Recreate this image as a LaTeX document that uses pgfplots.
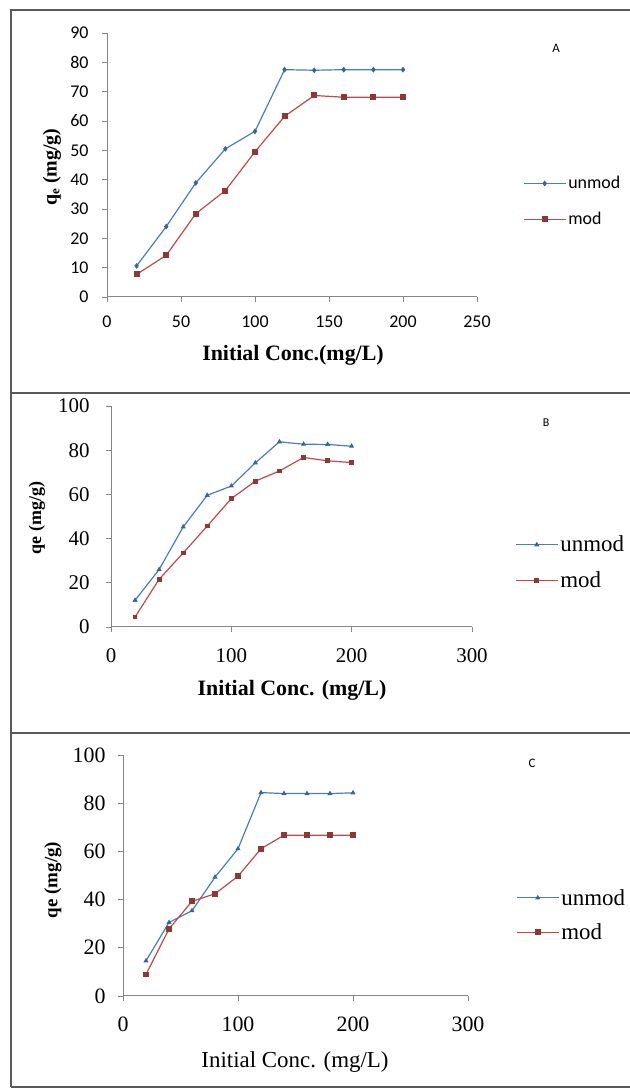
\documentclass[border=0pt]{standalone}
\usepackage{fontspec}
\setmainfont{Liberation Serif}
\newfontfamily\carlito{Carlito}
\usepackage{pgfplots}
\pgfplotsset{compat=1.18}

\definecolor{xlblue}{HTML}{4A7EBB}
\definecolor{xlred}{HTML}{BE4B48}
\definecolor{axgray}{HTML}{868686}
\definecolor{framegray}{HTML}{595959}

\pgfplotsset{
  panel/.style={
    scale only axis, anchor=south west,
    axis lines=left, axis line style={-, axgray, line width=1bp},
    tick style={axgray, line width=0.8bp}, tick align=outside, major tick length=5bp,
    xmin=0, ymin=0, clip=false,
    /pgf/number format/assume math mode=true,
    legend style={draw=none, fill=none, anchor=west, inner sep=0pt},
    legend cell align=left,
    legend image code/.code={\draw[mark repeat=2,mark phase=2,##1] plot coordinates {(0bp,0bp) (21bp,0bp) (42bp,0bp)};},
  },
  unmod/.style={xlblue, line width=1.2bp, mark options={fill=xlblue!80!black, draw=xlblue!80!black}},
  mod/.style={xlred, line width=1.2bp, mark=square*, mark options={fill=xlred!75!black, draw=xlred!75!black}},
}

\begin{document}
\begin{tikzpicture}
\useasboundingbox (0,0) rectangle (630bp,1090bp);

% panel A
\begin{axis}[panel,
  at={(107bp,793bp)}, width=370bp, height=264bp,
  xmax=250, ymax=90, xtick={0,50,...,250}, ytick={0,10,...,90},
  ticklabel style={font=\carlito\fontsize{18}{18}\selectfont},
  yticklabel style={xshift=-10bp}, xticklabel style={yshift=-10bp},
  legend style={at={(axis description cs:1.124,0.362)}, font=\carlito\fontsize{18}{18}\selectfont, row sep=18bp},
]
\addplot[unmod, mark=diamond*, mark size=2bp] coordinates {
  (20,10.6) (40,24.0) (60,38.9) (80,50.5) (100,56.5) (120,77.5) (140,77.3) (160,77.5) (180,77.5) (200,77.5)};
\addplot[mod, mark size=2.4bp] coordinates {
  (20,7.7) (40,14.2) (60,28.4) (80,36.3) (100,49.5) (120,61.6) (140,68.7) (160,68.1) (180,68.1) (200,68.1)};
\legend{unmod,mod}
\node[font=\carlito\fontsize{13}{13}\selectfont] at (axis description cs:1.214,0.943) {A};
\end{axis}
\node[font=\bfseries\fontsize{22}{22}\selectfont] at (293bp,735bp) {Initial Conc.(mg/L)};
\node[rotate=90, font=\bfseries\fontsize{20}{20}\selectfont] at (52bp,923bp)
  {q\raisebox{-0.3ex}{\fontsize{13}{13}\selectfont e} (mg/g)};

% panel B
\begin{axis}[panel,
  at={(111bp,463bp)}, width=361bp, height=221bp,
  xmax=300, ymax=100, xtick={0,100,200,300}, ytick={0,20,...,100},
  ticklabel style={font=\fontsize{21}{21}\selectfont},
  yticklabel style={xshift=-13bp}, xticklabel style={yshift=-13bp},
  legend style={at={(axis description cs:1.119,0.292)}, font=\fontsize{23}{23}\selectfont, row sep=14bp},
]
\addplot[unmod, mark=triangle*, mark size=1.8bp] coordinates {
  (20,12.1) (40,26.0) (60,45.3) (80,59.6) (100,63.8) (120,74.3) (140,83.8) (160,82.7) (180,82.6) (200,81.8)};
\addplot[mod, mark size=1.8bp] coordinates {
  (20,4.5) (40,21.6) (60,33.5) (80,45.7) (100,58.1) (120,66.0) (140,70.6) (160,76.7) (180,75.2) (200,74.4)};
\legend{unmod,mod}
\node[font=\carlito\fontsize{12}{12}\selectfont] at (axis description cs:1.205,0.923) {B};
\end{axis}
\node[font=\bfseries\fontsize{22}{22}\selectfont] at (292bp,400bp) {Initial Conc. (mg/L)};
\node[rotate=90, font=\bfseries\fontsize{18}{18}\selectfont] at (37bp,572bp) {qe (mg/g)};

% panel C
\begin{axis}[panel,
  at={(123bp,94bp)}, width=345bp, height=241bp,
  xmax=300, ymax=100, xtick={0,100,200,300}, ytick={0,20,...,100},
  ticklabel style={font=\fontsize{22}{22}\selectfont},
  yticklabel style={xshift=-9bp}, xticklabel style={yshift=-12bp},
  legend style={at={(axis description cs:1.139,0.336)}, font=\fontsize{23}{23}\selectfont, row sep=13bp},
]
\addplot[unmod, mark=triangle*, mark size=1.8bp] coordinates {
  (20,14.6) (40,30.5) (60,35.4) (80,49.3) (100,61.1) (120,84.4) (140,84.0) (160,84.0) (180,84.0) (200,84.3)};
\addplot[mod, mark size=2.2bp] coordinates {
  (20,9.0) (40,27.8) (60,39.3) (80,42.4) (100,49.7) (120,61.1) (140,66.7) (160,66.7) (180,66.7) (200,66.7)};
\legend{unmod,mod}
\node[font=\carlito\fontsize{13}{13}\selectfont] at (axis description cs:1.186,0.967) {C};
\end{axis}
\node[font=\fontsize{23}{23}\selectfont] at (295bp,28bp) {Initial Conc. (mg/L)};
\node[rotate=90, font=\bfseries\fontsize{19}{19}\selectfont] at (53bp,210bp) {qe (mg/g)};

% frame round the three panels
\draw[framegray, line width=1.5bp] (11bp,3bp) -- (11bp,1080bp) -- (630bp,1080bp);
\draw[framegray, line width=1.5bp] (11bp,697bp) -- (630bp,697bp);
\draw[framegray, line width=1.5bp] (11bp,357bp) -- (630bp,357bp);
\draw[framegray, line width=1.5bp] (11bp,3bp) -- (630bp,3bp);
\end{tikzpicture}
\end{document}
